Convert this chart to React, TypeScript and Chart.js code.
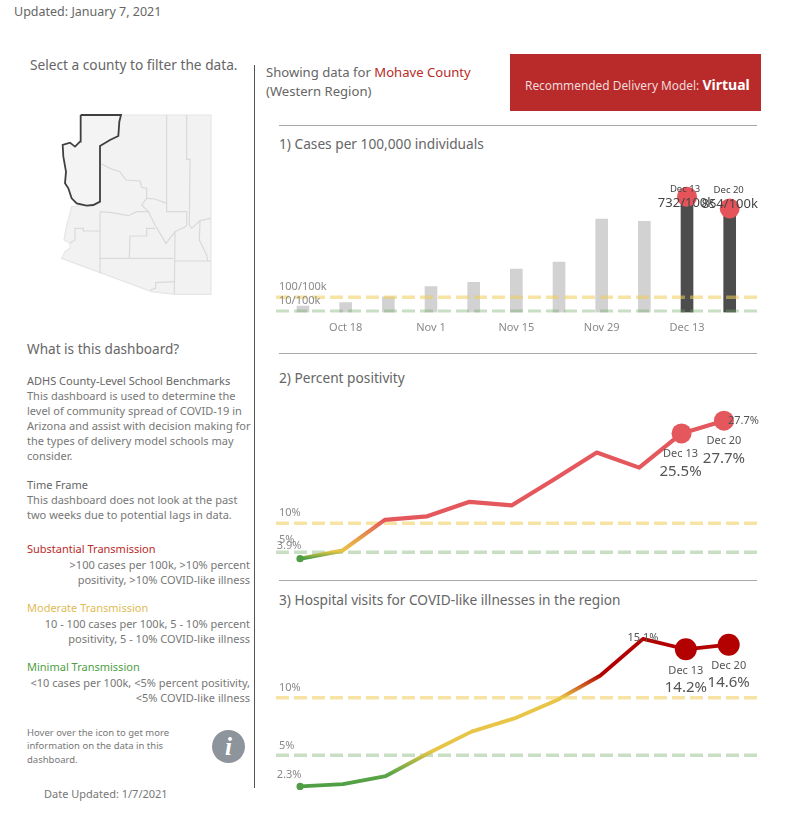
import React, { useEffect, useRef } from "react";
import { Chart, registerables } from "chart.js";

Chart.register(...registerables);

const FONT = "'Noto Sans', sans-serif";

const weeks = ["Oct 11", "Oct 18", "Oct 25", "Nov 1", "Nov 8", "Nov 15", "Nov 22", "Nov 29", "Dec 6", "Dec 13", "Dec 20"];
const shownTicks = ["Oct 18", "Nov 1", "Nov 15", "Nov 29", "Dec 13"];
const casesPer100k = [42, 64, 103, 169, 197, 283, 329, 611, 595, 756, 680];
const casesThresholds = [100, 10];
const percentPositivity = [3.9, 5.3, 10.6, 11.2, 13.7, 13.1, 17.6, 22.2, 19.6, 25.5, 27.7];
const hospitalVisits = [2.3, 2.5, 3.2, 5.2, 7.05, 8.2, 9.8, 11.9, 15.1, 14.2, 14.6];
const percentThresholds = [10, 5];

const stateOutline = [[122,45],[513,45],[513,583],[405,583],[335,575],[65,475],[75,455],[90,445],[90,430],[72,420],[78,385],[90,340],[95,320],[130,315],[180,305],[180,138],[122,125],[122,45]];
const mohaveOutline = [[122,45],[243,45],[238,65],[235,108],[210,120],[180,138],[180,305],[160,315],[140,317],[110,310],[95,295],[85,265],[75,250],[78,215],[70,170],[68,135],[90,128],[105,140],[120,125],[122,45]];
const countyLines = [
  [[380,45],[380,335],[440,335],[440,378]],
  [[440,45],[440,178],[450,178],[448,375],[455,385],[480,362],[513,355]],
  [[180,190],[210,205],[240,215],[258,240],[300,243],[305,262],[320,265],[320,295],[345,297],[380,310]],
  [[180,335],[215,338],[265,347],[290,335],[325,335],[305,315],[320,295]],
  [[325,335],[345,375],[378,430],[405,395],[440,378]],
  [[345,385],[320,385],[320,408],[270,408],[268,475]],
  [[180,475],[400,475]],
  [[480,362],[478,420],[500,465],[503,483]],
  [[405,395],[403,583]],
  [[405,483],[513,483]],
  [[180,335],[180,520]],
  [[90,430],[105,420],[105,385],[130,385],[130,393],[180,393]],
  [[330,570],[347,565],[347,548],[403,545]],
];

const YELLOW_DASH = "rgba(240,205,90,0.55)";
const GREEN_DASH = "rgba(110,170,100,0.38)";
const GREY_LABEL = "#8a8a8a";
const DARK_LABEL = "#555555";

type Note = { text: string; x: number; y: number; dx?: number; dy: number; size: number; color: string; align?: CanvasTextAlign; left?: boolean };

const notesPlugin = {
  id: "notes",
  afterDatasetsDraw(chart: any, _a: any, opts: any) {
    const notes: Note[] = opts.items || [];
    const { ctx, scales, chartArea } = chart;
    ctx.save();
    ctx.textBaseline = "middle";
    for (const n of notes) {
      ctx.font = `${n.size}px ${FONT}`;
      ctx.fillStyle = n.color;
      ctx.textAlign = n.align || "center";
      const px = n.left ? chartArea.left + (n.dx || 0) : scales.x.getPixelForValue(n.x) + (n.dx || 0);
      ctx.fillText(n.text, px, scales.y.getPixelForValue(n.y) + n.dy);
    }
    ctx.restore();
  },
};

function dashDataset(value: number, color: string, width: number, xMin: number, xMax: number, order: number) {
  return {
    type: "line",
    data: [{ x: xMin, y: value }, { x: xMax, y: value }],
    borderColor: color,
    borderWidth: width,
    borderDash: [13, 5],
    pointRadius: 0,
    order,
    clip: false,
  };
}

function gradientColor(stops: [number, string][]) {
  return (c: any) => {
    const chart = c.chart;
    if (!chart.chartArea) return stops[stops.length - 1][1];
    const y = chart.scales.y;
    const lo = stops[0][0];
    const hi = stops[stops.length - 1][0];
    const g = chart.ctx.createLinearGradient(0, y.getPixelForValue(lo), 0, y.getPixelForValue(hi));
    for (const [v, col] of stops) g.addColorStop((v - lo) / (hi - lo), col);
    return g;
  };
}

function lineConfig(opts: any) {
  const { values, thresholds, xMin, xMax, yMin, yMax, stops, hot, notes, big, lw } = opts;
  const n = values.length;
  return {
    type: "line",
    data: {
      datasets: [
        dashDataset(thresholds[0], YELLOW_DASH, 3.5, xMin, xMax, 3),
        dashDataset(thresholds[1], GREEN_DASH, 3.5, xMin, xMax, 2),
        {
          type: "line",
          data: values.map((v: number, i: number) => ({ x: i, y: v })),
          borderColor: gradientColor(stops),
          borderWidth: lw,
          borderJoinStyle: "round",
          borderCapStyle: "round",
          tension: 0,
          pointRadius: values.map((_: number, i: number) => (i === 0 ? 3.6 : i >= n - 2 ? big : 0)),
          pointBorderWidth: 0,
          pointBackgroundColor: values.map((_: number, i: number) => (i === 0 ? "#4f9e45" : hot)),
          order: 1,
          clip: false,
        },
      ],
    },
    options: baseOptions(xMin, xMax, yMin, yMax, notes),
  };
}

function baseOptions(xMin: number, xMax: number, yMin: number, yMax: number, notes: Note[]) {
  return {
    responsive: false,
    animation: false,
    events: [],
    layout: { autoPadding: false, padding: { left: 10, right: 9, top: 0, bottom: 0 } },
    plugins: { legend: { display: false }, tooltip: { enabled: false }, notes: { items: notes } },
    scales: {
      x: { type: "linear", display: false, min: xMin, max: xMax, offset: false },
      y: { type: "linear", display: false, min: yMin, max: yMax },
    },
  };
}

const casesNotes: Note[] = [
  { text: "100/100k", x: 0, y: 100, left: true, dx: 3, dy: -10.5, size: 11, color: GREY_LABEL, align: "left" },
  { text: "10/100k", x: 0, y: 10, left: true, dx: 3, dy: -10, size: 11, color: GREY_LABEL, align: "left" },
  { text: "Dec 13", x: 9, y: casesPer100k[9], dx: -2, dy: -7, size: 9.5, color: "#444" },
  { text: "Dec 20", x: 10, y: casesPer100k[10], dx: -1, dy: -18.5, size: 9.5, color: "#444" },
  { text: "732/100k", x: 9, y: casesPer100k[9], dx: -1, dy: 7, size: 13, color: "#444" },
  { text: "854/100k", x: 10, y: casesPer100k[10], dy: -4.5, size: 13, color: "#444" },
];

const positivityNotes: Note[] = [
  { text: "10%", x: 0, y: 10, left: true, dx: 3, dy: -10.5, size: 11, color: GREY_LABEL, align: "left" },
  { text: "5%", x: 0, y: 5, left: true, dx: 3, dy: -12, size: 11, color: GREY_LABEL, align: "left" },
  { text: "3.9%", x: 0, y: 3.9, dx: -11, dy: -13, size: 11, color: GREY_LABEL },
  { text: "27.7%", x: 10, y: 27.7, dx: 4, dy: 0.7, size: 11, color: DARK_LABEL, align: "left" },
  { text: "Dec 20", x: 10, y: 27.7, dy: 20.7, size: 11, color: DARK_LABEL },
  { text: "27.7%", x: 10, y: 27.7, dy: 38, size: 15, color: DARK_LABEL },
  { text: "Dec 13", x: 9, y: 25.5, dx: -1, dy: 20, size: 11, color: DARK_LABEL },
  { text: "25.5%", x: 9, y: 25.5, dx: -1, dy: 38, size: 15, color: DARK_LABEL },
];

const hospitalNotes: Note[] = [
  { text: "10%", x: 0, y: 10, left: true, dx: 3, dy: -10, size: 11, color: GREY_LABEL, align: "left" },
  { text: "5%", x: 0, y: 5, left: true, dx: 3, dy: -9.3, size: 11, color: GREY_LABEL, align: "left" },
  { text: "2.3%", x: 0, y: 2.3, dx: -11, dy: -12, size: 11, color: GREY_LABEL },
  { text: "15.1%", x: 8, y: 15.1, dy: -1, size: 11, color: DARK_LABEL },
  { text: "Dec 13", x: 9, y: 14.2, dy: 21.7, size: 11, color: DARK_LABEL },
  { text: "14.2%", x: 9, y: 14.2, dy: 38.5, size: 15, color: DARK_LABEL },
  { text: "Dec 20", x: 10, y: 14.6, dy: 20.7, size: 11, color: DARK_LABEL },
  { text: "14.6%", x: 10, y: 14.6, dy: 38.5, size: 15, color: DARK_LABEL },
];

function casesConfig() {
  const xMin = -0.633;
  const xMax = 10.64;
  const last = casesPer100k.length - 2;
  const base: any = baseOptions(xMin, xMax, 0, 931, casesNotes);
  base.scales.x = {
    type: "linear",
    min: xMin,
    max: xMax,
    offset: false,
    display: true,
    border: { display: false },
    grid: { display: false, drawTicks: false, offset: false },
    afterBuildTicks: (s: any) => {
      s.ticks = shownTicks.map((t) => ({ value: weeks.indexOf(t) }));
    },
    afterFit: (s: any) => {
      s.height = 37.5;
    },
    ticks: {
      autoSkip: false,
      maxRotation: 0,
      padding: 9,
      color: GREY_LABEL,
      font: { family: FONT, size: 11 },
      callback: (v: number) => weeks[v],
    },
  };
  return {
    type: "bar",
    data: {
      datasets: [
        {
          type: "bar",
          data: casesPer100k.map((v, i) => ({ x: i, y: v })),
          backgroundColor: casesPer100k.map((_, i) => (i >= last ? "#4d4d4d" : "#d2d2d2")),
          barThickness: 12,
          order: 5,
        },
        dashDataset(casesThresholds[0], YELLOW_DASH, 3.5, xMin, xMax, 4),
        dashDataset(casesThresholds[1], GREEN_DASH, 3, xMin, xMax, 3),
        {
          type: "line",
          showLine: false,
          data: casesPer100k.map((v, i) => ({ x: i, y: i >= last ? v : null })),
          pointRadius: 10,
          pointBorderWidth: 0,
          pointBackgroundColor: "#e4545a",
          order: 1,
          clip: false,
        },
      ],
    },
    options: base,
  };
}

function positivityConfig() {
  return lineConfig({
    values: percentPositivity,
    thresholds: percentThresholds,
    xMin: -0.566,
    xMax: 10.78,
    yMin: 1.09,
    yMax: 31.26,
    stops: [[3.9, "#4f9e45"], [5.2, "#e8c547"], [7, "#e8a547"], [10.6, "#e4575c"], [28, "#e4575c"]],
    hot: "#e4575c",
    notes: positivityNotes,
    big: 10,
    lw: 4.2,
  });
}

function hospitalConfig() {
  return lineConfig({
    values: hospitalVisits,
    thresholds: percentThresholds,
    xMin: -0.562,
    xMax: 10.66,
    yMin: 1.12,
    yMax: 16.74,
    stops: [[2.3, "#4f9e45"], [3.4, "#5da548"], [5.4, "#e8c547"], [10, "#e8c547"], [12, "#b30000"], [16, "#b30000"]],
    hot: "#b30000",
    notes: hospitalNotes,
    big: 11,
    lw: 3.8,
  });
}

function mapConfig() {
  const toXY = (pts: number[][]) => pts.map(([x, y]) => ({ x, y }));
  return {
    type: "scatter",
    data: {
      datasets: [
        { data: toXY(stateOutline), showLine: true, fill: "shape", backgroundColor: "#f2f2f2", borderColor: "#e6e6e6", borderWidth: 1.2, pointRadius: 0, order: 3, clip: false },
        ...countyLines.map((l) => ({ data: toXY(l), showLine: true, fill: false, borderColor: "#d9d9d9", borderWidth: 1.2, pointRadius: 0, order: 2, clip: false })),
        { data: toXY(mohaveOutline), showLine: true, fill: "shape", backgroundColor: "#f4f4f4", borderColor: "#3f3f3f", borderWidth: 1.8, pointRadius: 0, order: 1, clip: false },
      ],
    },
    options: {
      responsive: false,
      animation: false,
      events: [],
      layout: { padding: 0, autoPadding: false },
      plugins: { legend: { display: false }, tooltip: { enabled: false } },
      scales: {
        x: { type: "linear", display: false, min: 0, max: 570 },
        y: { type: "linear", display: false, min: 0, max: 630, reverse: true },
      },
    },
  };
}

function ChartCanvas({ make, left, top, width, height, plugins }: any) {
  const ref = useRef<HTMLCanvasElement>(null);
  useEffect(() => {
    const chart = new Chart(ref.current as any, { ...make(), plugins: plugins || [] } as any);
    return () => chart.destroy();
  }, []);
  return <canvas ref={ref} width={width} height={height} style={{ position: "absolute", left, top, width, height }} />;
}

function T({ x, y, size = 11, color = "#777", right, bold, children }: any) {
  const style: any = {
    position: "absolute",
    top: y - 10,
    height: 20,
    lineHeight: "20px",
    fontSize: size,
    color,
    whiteSpace: "nowrap",
    fontWeight: bold ? 700 : 400,
  };
  if (right !== undefined) style.right = 802 - right;
  else style.left = x;
  return <div style={style}>{children}</div>;
}

function Rule({ y }: { y: number }) {
  return <div style={{ position: "absolute", left: 279, width: 478, top: y, height: 1, background: "#a8a8a8" }} />;
}

const RED = "#b92b27";

export default function App() {
  return (
    <div style={{ position: "absolute", left: 0, top: 0, width: 802, height: 837, overflow: "hidden", background: "#fff", fontFamily: FONT }}>
      <T x={14} y={12} size={12.5} color="#666">Updated: January 7, 2021</T>
      <T x={30} y={65} size={13.7} color="#666">Select a county to filter the data.</T>
      <div style={{ position: "absolute", left: 254, top: 65, width: 1, height: 723, background: "#555" }} />

      <T x={266} y={72} size={13.1} color="#666">Showing data for <span style={{ color: RED }}>Mohave County</span></T>
      <T x={266} y={91} size={13.1} color="#666">(Western Region)</T>
      <div style={{ position: "absolute", left: 510, top: 54, width: 251, height: 57, background: "#b92b2b" }} />
      <T x={525} y={85} size={11.9} color="#f0dada">Recommended Delivery Model: <span style={{ color: "#fff", fontWeight: 700, fontSize: 14 }}>Virtual</span></T>

      <Rule y={125} />
      <T x={279} y={144} size={13.7} color="#666">1) Cases per 100,000 individuals</T>
      <Rule y={353} />
      <T x={279} y={378} size={13.7} color="#666">2) Percent positivity</T>
      <Rule y={580} />
      <T x={279} y={600} size={13.7} color="#666">3) Hospital visits for COVID-like illnesses in the region</T>

      <ChartCanvas make={mapConfig} left={40} top={100} width={190} height={210} />
      <ChartCanvas make={casesConfig} plugins={[notesPlugin]} left={266} top={170} width={500} height={180} />
      <ChartCanvas make={positivityConfig} plugins={[notesPlugin]} left={266} top={400} width={500} height={175} />
      <ChartCanvas make={hospitalConfig} plugins={[notesPlugin]} left={266} top={620} width={500} height={180} />

      <T x={27} y={349} size={13.6} color="#666">What is this dashboard?</T>
      <T x={27} y={381} color="#666">ADHS County-Level School Benchmarks</T>
      <T x={27} y={396}>This dashboard is used to determine the</T>
      <T x={27} y={411}>level of community spread of COVID-19 in</T>
      <T x={27} y={426}>Arizona and assist with decision making for</T>
      <T x={27} y={441}>the types of delivery model schools may</T>
      <T x={27} y={456}>consider.</T>
      <T x={27} y={485} color="#666">Time Frame</T>
      <T x={27} y={500}>This dashboard does not look at the past</T>
      <T x={27} y={515}>two weeks due to potential lags in data.</T>

      <T x={27} y={549} color={RED}>Substantial Transmission</T>
      <T right={250} y={565}>&gt;100 cases per 100k, &gt;10% percent</T>
      <T right={250} y={580}>positivity, &gt;10% COVID-like illness</T>
      <T x={27} y={608} color="#e0bb55">Moderate Transmission</T>
      <T right={250} y={624}>10 - 100 cases per 100k, 5 - 10% percent</T>
      <T right={250} y={639}>positivity, 5 - 10% COVID-like illness</T>
      <T x={27} y={667} color="#4f9e45">Minimal Transmission</T>
      <T right={250} y={683}>&lt;10 cases per 100k, &lt;5% percent positivity,</T>
      <T right={250} y={698}>&lt;5% COVID-like illness</T>

      <T x={27} y={733} size={9.5}>Hover over the icon to get more</T>
      <T x={27} y={746} size={9.5}>information on the data in this</T>
      <T x={27} y={760} size={9.5}>dashboard.</T>
      <div style={{ position: "absolute", left: 212, top: 730, width: 33, height: 33, borderRadius: "50%", background: "#8e949b", color: "#fff", textAlign: "center", lineHeight: "33px", fontSize: 25, fontWeight: 700, fontStyle: "italic", fontFamily: "'Liberation Serif', serif" }}>i</div>
      <T x={44} y={794} size={11}>Date Updated: 1/7/2021</T>
    </div>
  );
}
